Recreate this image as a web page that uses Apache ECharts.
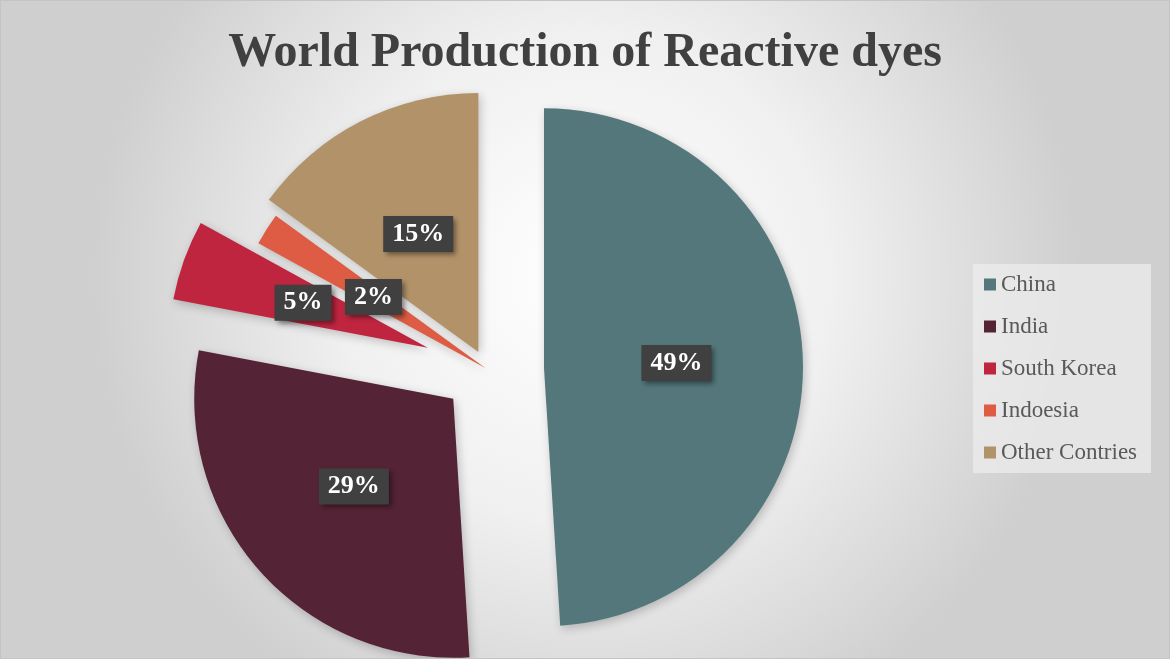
<!DOCTYPE html>
<html>
<head>
<meta charset="utf-8">
<script src="https://cdn.jsdelivr.net/npm/echarts@6/dist/echarts.min.js"></script>
<style>
html, body { margin: 0; padding: 0; }
#chart { width: 1168px; height: 657px; border: 1px solid #c4c4c4; }
</style>
</head>
<body>
<div id="chart"></div>
<script>
'use strict';
// data
const categories = ['China', 'India', 'South Korea', 'Indoesia', 'Other Contries'];
const shares = [49, 29, 5, 2, 15];
const sliceColors = ['#53777a', '#542335', '#c02540', '#dd5c43', '#b29269'];
// how far each slice is pulled out of the pie (px)
const explode = [57, 45, 63, 2, 19];

const serif = '"Liberation Serif", "DejaVu Serif", serif';

// one pie per slice so every slice can have its own explosion distance
const buildSeries = (i) => ({
    type: 'pie',
    center: [486, 368],
    radius: 259,
    startAngle: 90,
    selectedMode: 'multiple',
    selectedOffset: explode[i],
    avoidLabelOverlap: false,
    animation: false,
    emphasis: { disabled: true },
    labelLine: { show: false },
    labelLayout: { hideOverlap: false },
    itemStyle: {
        shadowBlur: 10,
        shadowColor: 'rgba(0,0,0,0.22)',
        shadowOffsetX: 2,
        shadowOffsetY: 3
    },
    label: {
        position: 'inside',
        formatter: '{d}%',
        fontFamily: serif,
        fontWeight: 'bold',
        fontSize: 26,
        color: '#fff',
        backgroundColor: '#404040',
        padding: [6, 9, 4, 9],
        shadowBlur: 5,
        shadowOffsetX: 3,
        shadowOffsetY: 3,
        shadowColor: 'rgba(0,0,0,0.45)'
    },
    data: categories.map((name, j) => ({
        name: name,
        value: shares[j],
        selected: j === i,
        itemStyle: j === i ? { color: sliceColors[j] } : { color: 'transparent', shadowBlur: 0, shadowColor: 'transparent' },
        label: { show: j === i }
    }))
});

const chart = echarts.init(document.getElementById('chart'));
chart.setOption({
    backgroundColor: {
        type: 'radial',
        x: 0.5,
        y: 0.42,
        r: 0.75,
        colorStops: [
            { offset: 0, color: '#ffffff' },
            { offset: 0.5, color: '#f0f0f0' },
            { offset: 1, color: '#cfcfcf' }
        ]
    },
    title: {
        text: 'World Production of Reactive dyes',
        left: 'center',
        top: 24,
        textStyle: {
            fontFamily: serif,
            fontWeight: 'bold',
            fontSize: 48,
            color: '#404040'
        }
    },
    legend: {
        orient: 'vertical',
        left: 972,
        top: 263,
        padding: [9, 14, 9, 11],
        itemGap: 19,
        itemWidth: 12,
        itemHeight: 12,
        icon: 'rect',
        selectedMode: false,
        backgroundColor: 'rgba(238,238,238,0.7)',
        textStyle: {
            fontFamily: serif,
            fontSize: 23,
            color: '#595959'
        },
        data: categories.map((name, j) => ({ name: name, itemStyle: { color: sliceColors[j] } }))
    },
    series: categories.map((c, i) => buildSeries(i))
});
</script>
</body>
</html>
